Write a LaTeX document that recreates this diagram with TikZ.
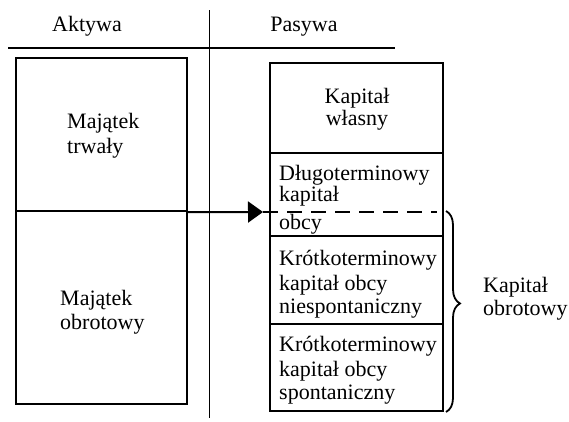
\documentclass[tikz,border=0pt]{standalone}
\usepackage{fontspec}
\setmainfont{Liberation Serif}
\usetikzlibrary{decorations.pathreplacing,arrows.meta}
\begin{document}
\begin{tikzpicture}[x=1pt,y=-1pt,
  every node/.style={font=\fontsize{22}{24}\selectfont, inner sep=0pt},
  box/.style={draw, line width=2.2pt, anchor=north west},
  ln/.style={anchor=base west},
  cln/.style={anchor=base}]
\useasboundingbox (0,0) rectangle (569,421);

% header
\node[cln] (akt) at (87,31) {Aktywa};
\node[cln] (pas) at (304,31) {Pasywa};
\coordinate (hl) at (8,48);
\coordinate (hr) at (395,48);
\draw[line width=1.4pt] (hl) -- (hr);
\coordinate (vt) at (209,10);
\coordinate (vb) at (209,418);
\draw[line width=0.9pt] (vt) -- (vb);

% assets
\node[box, minimum width=171pt, minimum height=153pt] (mt) at (15,57) {};
\node[box, minimum width=171pt, minimum height=193pt] (mo) at (15,210) {};
\node[ln] (mt1) at (67,128) {Majątek};
\node[ln] (mt2) at (67,153) {trwały};
\node[ln] (mo1) at (60,305) {Majątek};
\node[ln] (mo2) at (60,329) {obrotowy};

% liabilities
\node[box, minimum width=173pt, minimum height=90pt] (kw) at (269,62) {};
\node[box, minimum width=173pt, minimum height=83pt] (dk) at (269,152) {};
\node[box, minimum width=173pt, minimum height=88pt] (kn) at (269,235) {};
\node[box, minimum width=173pt, minimum height=87pt] (ks) at (269,323) {};
\node[cln] (kw1) at (357,103) {Kapitał};
\node[cln] (kw2) at (357,125) {własny};
\node[ln] (dk1) at (279,180) {Długoterminowy};
\node[ln] (dk2) at (279,201) {kapitał};
\node[ln] (dk3) at (279,229) {obcy};
\node[ln] (kn1) at (279,265) {Krótkoterminowy};
\node[ln] (kn2) at (279,290) {kapitał obcy};
\node[ln] (kn3) at (279,313) {niespontaniczny};
\node[ln] (ks1) at (279,351) {Krótkoterminowy};
\node[ln] (ks2) at (279,376) {kapitał obcy};
\node[ln] (ks3) at (279,399) {spontaniczny};

% split line between fixed and current assets
\coordinate (sp) at (mt.south east);
\coordinate (tip) at (263,212);
\coordinate (dend) at (437,212);
\draw[line width=2pt, -{Triangle[length=15pt,width=21pt]}] (sp) -- (tip);
\draw[line width=2.2pt, dash pattern=on 15pt off 9pt] (tip) -- (dend);

% working capital brace
\coordinate (bt) at (446,211);
\coordinate (bb) at (446,412);
\draw[line width=1.8pt, decorate, decoration={brace, amplitude=14pt, aspect=0.46}] (bt) -- (bb);
\node[ln] (ko1) at (483,292) {Kapitał};
\node[ln] (ko2) at (483,315) {obrotowy};
\end{tikzpicture}
\end{document}
